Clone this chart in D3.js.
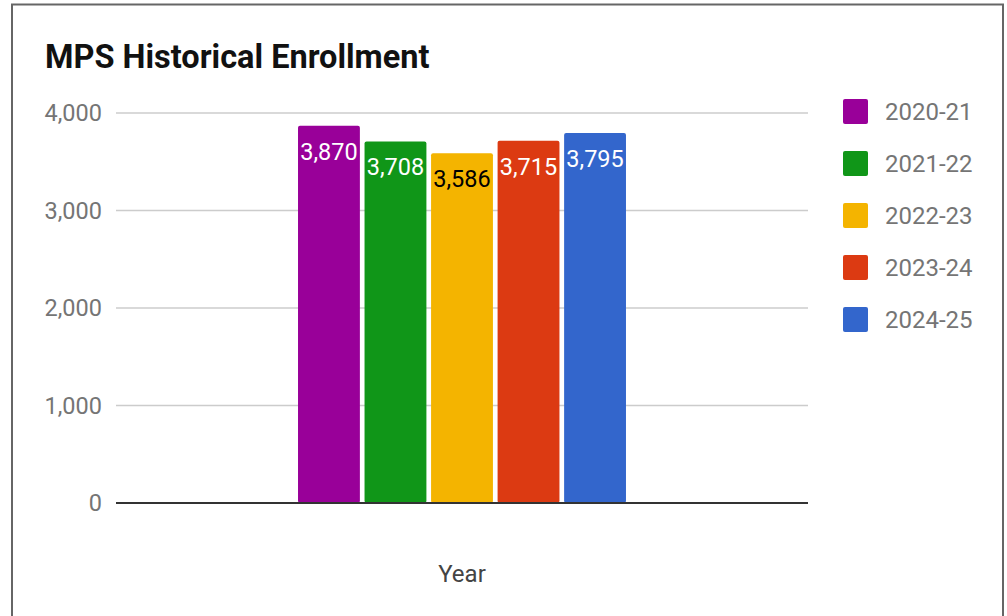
<!DOCTYPE html>
<html>
<head>
<meta charset="utf-8">
<script src="https://cdn.jsdelivr.net/npm/d3@7"></script>
<style>
  body { margin: 0; background: #fff; }
  svg text { font-family: Roboto, "Noto Sans", sans-serif; }
</style>
</head>
<body>
<div id="chart"></div>
<script>
var WIDTH = 1007
var HEIGHT = 616

// data
var years = ['2020-21', '2021-22', '2022-23', '2023-24', '2024-25'];
var enrollment = [3870, 3708, 3586, 3715, 3795];
var colors = ['#990099', '#109618', '#f4b400', '#dc3a12', '#3366cc'];
var labelColors = ['#fff', '#fff', '#000', '#fff', '#fff'];
var yTicks = [0, 1000, 2000, 3000, 4000];
var category = ['Year'];

var svg = d3.select('#chart').append('svg')
    .attr('width', WIDTH)
    .attr('height', HEIGHT);

// frame
svg.append('path')
    .attr('d', 'M12,620 L12,4.5 L1003,4.5 L1003,620')
    .attr('fill', 'none')
    .attr('stroke', '#666')
    .attr('stroke-width', 2);

svg.append('text')
    .attr('x', 45)
    .attr('y', 68)
    .attr('font-size', 32.5)
    .attr('font-weight', 'bold')
    .attr('fill', '#111')
    .text('MPS Historical Enrollment');

var y = d3.scaleLinear().domain([0, 4000]).range([503, 113]);

var xGroup = d3.scaleBand().domain(category).range([116, 808]).paddingInner(0).paddingOuter(0.555);
var xSeries = d3.scaleBand().domain(years).range([0, xGroup.bandwidth()]).paddingInner(0.07);

// gridlines
svg.append('g').selectAll('line')
    .data(yTicks.filter(d => d > 0))
    .enter()
    .append('line')
    .attr('x1', 116)
    .attr('x2', 808)
    .attr('y1', d => y(d))
    .attr('y2', d => y(d))
    .attr('stroke', '#ccc')
    .attr('stroke-width', 1.5);

// y axis labels
var yAxis = svg.append('g')
    .attr('transform', 'translate(102,0)')
    .call(d3.axisLeft(y).tickValues(yTicks).tickSize(0).tickPadding(0).tickFormat(d3.format(',')));
yAxis.select('.domain').remove();
yAxis.selectAll('text')
    .attr('font-size', 23.5)
    .attr('fill', '#757575')
    .attr('font-family', 'Roboto, sans-serif');

// bars
var barData = years.map((yr, i) => ({ year: yr, value: enrollment[i], color: colors[i], labelColor: labelColors[i] }));
var g = svg.append('g').attr('transform', 'translate(' + xGroup('Year') + ',0)');

g.selectAll('rect')
    .data(barData)
    .enter()
    .append('rect')
    .attr('x', d => xSeries(d.year))
    .attr('y', d => y(d.value))
    .attr('width', xSeries.bandwidth())
    .attr('height', d => y(0) - y(d.value))
    .attr('rx', 2)
    .attr('fill', d => d.color);

g.selectAll('text.val')
    .data(barData)
    .enter()
    .append('text')
    .attr('class', 'val')
    .attr('x', d => xSeries(d.year) + xSeries.bandwidth() / 2)
    .attr('y', d => y(d.value) + 34)
    .attr('text-anchor', 'middle')
    .attr('font-size', 23.5)
    .attr('fill', d => d.labelColor)
    .text(d => d3.format(',')(d.value));

// baseline
svg.append('line')
    .attr('x1', 116)
    .attr('x2', 808)
    .attr('y1', y(0))
    .attr('y2', y(0))
    .attr('stroke', '#333')
    .attr('stroke-width', 2);

// x axis title
svg.append('text')
    .attr('x', xGroup('Year') + xGroup.bandwidth() / 2)
    .attr('y', 582)
    .attr('text-anchor', 'middle')
    .attr('font-size', 24)
    .attr('fill', '#444')
    .text('Year');

// legend
var legend = svg.append('g').selectAll('g')
    .data(barData)
    .enter()
    .append('g')
    .attr('transform', (d, i) => 'translate(843,' + (99 + i * 52) + ')');

legend.append('rect')
    .attr('width', 25)
    .attr('height', 25)
    .attr('rx', 2)
    .attr('fill', d => d.color);

legend.append('text')
    .attr('x', 42)
    .attr('y', 12.5)
    .attr('dy', '0.36em')
    .attr('font-size', 24)
    .attr('fill', '#757575')
    .text(d => d.year);
</script>
</body>
</html>
